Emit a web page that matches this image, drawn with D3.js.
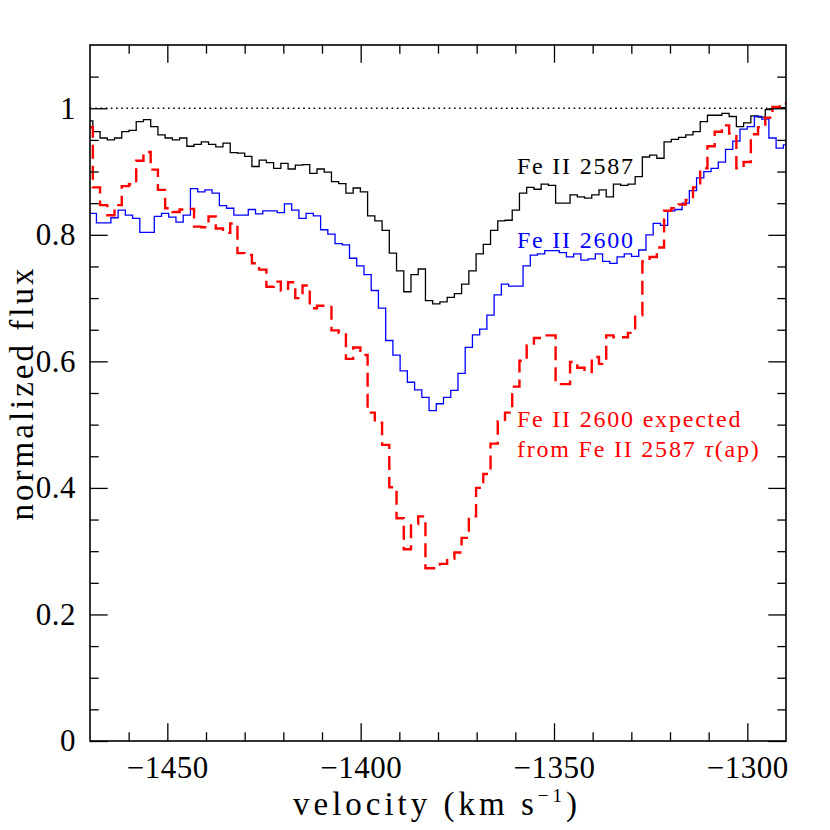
<!DOCTYPE html>
<html>
<head>
<meta charset="utf-8">
<script src="https://cdn.jsdelivr.net/npm/d3@7"></script>
<style>
  body { margin: 0; background: #fff; }
  text { font-family: "Liberation Serif", "DejaVu Serif", serif; }
</style>
</head>
<body>
<script>
// velocity bin centres (km/s) for Fe II 2587 and the expected profile
var velA = [-1470.20, -1468.33, -1466.46, -1464.59, -1462.72, -1460.85, -1458.98, -1457.11, -1455.24, -1453.37,
  -1451.50, -1449.63, -1447.76, -1445.89, -1444.02, -1442.15, -1440.28, -1438.41, -1436.54, -1434.67,
  -1432.80, -1430.93, -1429.06, -1427.19, -1425.32, -1423.45, -1421.58, -1419.71, -1417.84, -1415.97,
  -1414.10, -1412.23, -1410.36, -1408.49, -1406.62, -1404.75, -1402.88, -1401.01, -1399.14, -1397.27,
  -1395.40, -1393.53, -1391.66, -1389.79, -1387.92, -1386.05, -1384.18, -1382.31, -1380.44, -1378.57,
  -1376.70, -1374.83, -1372.96, -1371.09, -1369.22, -1367.35, -1365.48, -1363.61, -1361.74, -1359.87,
  -1358.00, -1356.13, -1354.26, -1352.39, -1350.52, -1348.65, -1346.78, -1344.91, -1343.04, -1341.17,
  -1339.30, -1337.43, -1335.56, -1333.69, -1331.82, -1329.95, -1328.08, -1326.21, -1324.34, -1322.47,
  -1320.60, -1318.73, -1316.86, -1314.99, -1313.12, -1311.25, -1309.38, -1307.51, -1305.64, -1303.77,
  -1301.90, -1300.03, -1298.16, -1296.29, -1294.42, -1292.55, -1290.68, -1288.81];

// velocity bin centres (km/s) for Fe II 2600 (offset by half a pixel)
var velB = [-1471.14, -1469.27, -1467.40, -1465.53, -1463.66, -1461.79, -1459.92, -1458.05, -1456.18, -1454.31,
  -1452.44, -1450.57, -1448.70, -1446.83, -1444.96, -1443.09, -1441.22, -1439.35, -1437.48, -1435.61,
  -1433.74, -1431.87, -1430.00, -1428.13, -1426.26, -1424.39, -1422.52, -1420.65, -1418.78, -1416.91,
  -1415.04, -1413.17, -1411.30, -1409.43, -1407.56, -1405.69, -1403.82, -1401.95, -1400.08, -1398.21,
  -1396.34, -1394.47, -1392.60, -1390.73, -1388.86, -1386.99, -1385.12, -1383.25, -1381.38, -1379.51,
  -1377.64, -1375.77, -1373.90, -1372.03, -1370.16, -1368.29, -1366.42, -1364.55, -1362.68, -1360.81,
  -1358.94, -1357.07, -1355.20, -1353.33, -1351.46, -1349.59, -1347.72, -1345.85, -1343.98, -1342.11,
  -1340.24, -1338.37, -1336.50, -1334.63, -1332.76, -1330.89, -1329.02, -1327.15, -1325.28, -1323.41,
  -1321.54, -1319.67, -1317.80, -1315.93, -1314.06, -1312.19, -1310.32, -1308.45, -1306.58, -1304.71,
  -1302.84, -1300.97, -1299.10, -1297.23, -1295.36, -1293.49, -1291.62, -1289.75];

// normalized flux, Fe II 2587 (black)
var flux2587 = [0.980, 0.963, 0.953, 0.950, 0.953, 0.963, 0.965, 0.979, 0.982, 0.971,
  0.958, 0.953, 0.950, 0.953, 0.940, 0.943, 0.947, 0.943, 0.939, 0.945,
  0.930, 0.929, 0.924, 0.908, 0.918, 0.914, 0.905, 0.913, 0.904, 0.910,
  0.911, 0.897, 0.904, 0.899, 0.884, 0.881, 0.866, 0.874, 0.868, 0.830,
  0.822, 0.807, 0.771, 0.743, 0.710, 0.737, 0.746, 0.696, 0.691, 0.694,
  0.701, 0.707, 0.722, 0.743, 0.770, 0.785, 0.807, 0.822, 0.823, 0.839,
  0.866, 0.875, 0.872, 0.880, 0.878, 0.850, 0.850, 0.863, 0.860, 0.858,
  0.863, 0.871, 0.860, 0.880, 0.878, 0.880, 0.892, 0.923, 0.926, 0.921,
  0.947, 0.951, 0.954, 0.958, 0.963, 0.979, 0.989, 0.989, 0.992, 0.987,
  0.971, 0.977, 0.988, 0.986, 0.998, 1.001, 1.001, 1.001];

// normalized flux, Fe II 2600 (blue)
var flux2600 = [0.834, 0.834, 0.819, 0.819, 0.827, 0.839, 0.831, 0.826, 0.804, 0.804,
  0.829, 0.834, 0.828, 0.820, 0.831, 0.873, 0.868, 0.871, 0.866, 0.846,
  0.842, 0.831, 0.831, 0.840, 0.833, 0.838, 0.838, 0.835, 0.849, 0.839,
  0.826, 0.834, 0.830, 0.808, 0.801, 0.786, 0.784, 0.763, 0.751, 0.737,
  0.712, 0.684, 0.633, 0.610, 0.585, 0.567, 0.555, 0.543, 0.522, 0.533,
  0.543, 0.554, 0.581, 0.622, 0.642, 0.651, 0.673, 0.705, 0.722, 0.719,
  0.719, 0.751, 0.768, 0.770, 0.775, 0.775, 0.772, 0.765, 0.770, 0.760,
  0.762, 0.770, 0.758, 0.755, 0.765, 0.770, 0.766, 0.776, 0.800, 0.818,
  0.815, 0.838, 0.840, 0.850, 0.870, 0.890, 0.900, 0.905, 0.915, 0.935,
  0.948, 0.967, 0.971, 0.987, 0.983, 0.953, 0.937, 0.942];

// Fe II 2600 expected from Fe II 2587 tau(ap) (red dashed)
var fluxExpected = [0.970, 0.875, 0.847, 0.831, 0.847, 0.877, 0.880, 0.917, 0.931, 0.903,
  0.871, 0.842, 0.836, 0.840, 0.841, 0.813, 0.812, 0.829, 0.810, 0.803,
  0.818, 0.771, 0.768, 0.755, 0.745, 0.718, 0.726, 0.712, 0.725, 0.700,
  0.720, 0.684, 0.688, 0.688, 0.649, 0.645, 0.604, 0.622, 0.610, 0.519,
  0.503, 0.468, 0.401, 0.352, 0.303, 0.343, 0.355, 0.273, 0.273, 0.280,
  0.288, 0.298, 0.321, 0.355, 0.400, 0.422, 0.470, 0.505, 0.519, 0.560,
  0.601, 0.625, 0.637, 0.641, 0.641, 0.564, 0.564, 0.599, 0.590, 0.583,
  0.607, 0.596, 0.641, 0.638, 0.638, 0.645, 0.673, 0.758, 0.765, 0.780,
  0.838, 0.842, 0.848, 0.855, 0.875, 0.905, 0.940, 0.963, 0.973, 0.960,
  0.905, 0.915, 0.959, 0.970, 0.985, 1.002, 1.008, 1.008];

// tick values
var xMajor = [-1450, -1400, -1350, -1300];
var xMinor = [-1460, -1440, -1430, -1420, -1410, -1390, -1380, -1370, -1360, -1340, -1330, -1320, -1310];
var yMajor = [0, 0.2, 0.4, 0.6, 0.8, 1];
var yMinor = [0.05, 0.1, 0.15, 0.25, 0.3, 0.35, 0.45, 0.5, 0.55, 0.65, 0.7, 0.75, 0.85, 0.9, 0.95, 1.05];

// chart size
var margin = { top: 45, right: 44, bottom: 89, left: 90 },
width = 830 - margin.left - margin.right,
height = 830 - margin.top - margin.bottom,
bigTick = 17.7,
smallTick = 8.7;

var svg = d3.select('body').
append('svg').
attr('width', 830).
attr('height', 830);

var g = svg.append('g').
attr('transform', 'translate(' + margin.left + ',' + margin.top + ')');

var xScale = d3.scaleLinear().domain([-1470, -1290]).range([0, width]);
var yScale = d3.scaleLinear().domain([0, 1.1]).range([height, 0]);

g.append('clipPath').attr('id', 'plotclip').
append('rect').attr('width', width).attr('height', height);

// dotted continuum at 1
g.append('line').
attr('x1', 0).attr('x2', width).
attr('y1', yScale(1)).attr('y2', yScale(1)).
attr('stroke', '#000').
attr('stroke-width', 1.3).
attr('stroke-dasharray', '1.6,3.6');

var step = d3.line().
x(d => xScale(d[0])).
y(d => yScale(d[1])).
curve(d3.curveStep);

var plot = g.append('g').attr('clip-path', 'url(#plotclip)');

plot.append('path').
datum(d3.zip(velA, flux2587)).
attr('fill', 'none').
attr('stroke', '#000').
attr('stroke-width', 1.3).
attr('d', step);

plot.append('path').
datum(d3.zip(velB, flux2600)).
attr('fill', 'none').
attr('stroke', '#0000ff').
attr('stroke-width', 1.3).
attr('d', step);

plot.append('path').
datum(d3.zip(velA, fluxExpected)).
attr('fill', 'none').
attr('stroke', '#ff0000').
attr('stroke-width', 2.4).
attr('stroke-dasharray', '14,7').
attr('d', step);

// ticks on all four sides, pointing inward
function noDomain(sel) { sel.select('.domain').remove(); }

g.append('g').
attr('transform', 'translate(0,' + height + ')').
call(d3.axisBottom(xScale).tickValues(xMajor).tickSize(-bigTick).tickPadding(15).tickFormat(d3.format('d'))).
call(noDomain);
g.append('g').
attr('transform', 'translate(0,' + height + ')').
call(d3.axisBottom(xScale).tickValues(xMinor).tickSize(-smallTick).tickFormat('')).
call(noDomain);
g.append('g').
call(d3.axisTop(xScale).tickValues(xMajor).tickSize(-bigTick).tickFormat('')).
call(noDomain);
g.append('g').
call(d3.axisTop(xScale).tickValues(xMinor).tickSize(-smallTick).tickFormat('')).
call(noDomain);

g.append('g').
call(d3.axisLeft(yScale).tickValues(yMajor).tickSize(-bigTick).tickPadding(14).
tickFormat(d => String(+d.toFixed(1)))).
call(noDomain);
g.append('g').
call(d3.axisLeft(yScale).tickValues(yMinor).tickSize(-smallTick).tickFormat('')).
call(noDomain);
g.append('g').
attr('transform', 'translate(' + width + ',0)').
call(d3.axisRight(yScale).tickValues(yMajor).tickSize(-bigTick).tickFormat('')).
call(noDomain);
g.append('g').
attr('transform', 'translate(' + width + ',0)').
call(d3.axisRight(yScale).tickValues(yMinor).tickSize(-smallTick).tickFormat('')).
call(noDomain);

g.selectAll('.tick line').attr('stroke', '#000').attr('stroke-width', 1.3);
g.selectAll('.tick text').
attr('font-family', '"Liberation Serif", serif').
attr('font-size', 31).
attr('letter-spacing', 0.5).
attr('fill', '#000');

// frame
g.append('rect').
attr('width', width).
attr('height', height).
attr('fill', 'none').
attr('stroke', '#000').
attr('stroke-width', 1.6);

// line labels
var labels = [
  { text: 'Fe II 2587', v: -1359.6, f: 0.896, color: '#000' },
  { text: 'Fe II 2600', v: -1359.6, f: 0.779, color: '#0000ff' },
  { text: 'Fe II 2600 expected', v: -1359.6, f: 0.497, color: '#ff0000' }
];
labels.forEach(function (l) {
  g.append('text').
  attr('x', xScale(l.v)).
  attr('y', yScale(l.f)).
  attr('font-size', 24).
  attr('letter-spacing', 1.8).
  attr('fill', l.color).
  text(l.text);
});

var lastLine = g.append('text').
attr('x', xScale(-1359.6)).
attr('y', yScale(0.449)).
attr('font-size', 24).
attr('letter-spacing', 1.8).
attr('fill', '#ff0000');
lastLine.append('tspan').text('from Fe II 2587 ');
lastLine.append('tspan').attr('font-style', 'italic').text('\u03c4');
lastLine.append('tspan').text('(ap)');

// axis titles
var xTitle = svg.append('text').
attr('x', 437).
attr('y', 815).
attr('text-anchor', 'middle').
attr('font-size', 33).
attr('letter-spacing', 4);
xTitle.append('tspan').text('velocity (km s');
xTitle.append('tspan').attr('font-size', 19).attr('dy', -13).text('\u22121');
xTitle.append('tspan').attr('dy', 13).text(')');

svg.append('text').
attr('transform', 'translate(33,393) rotate(-90)').
attr('text-anchor', 'middle').
attr('font-size', 33).
attr('letter-spacing', 3).
text('normalized flux');
</script>
</body>
</html>
